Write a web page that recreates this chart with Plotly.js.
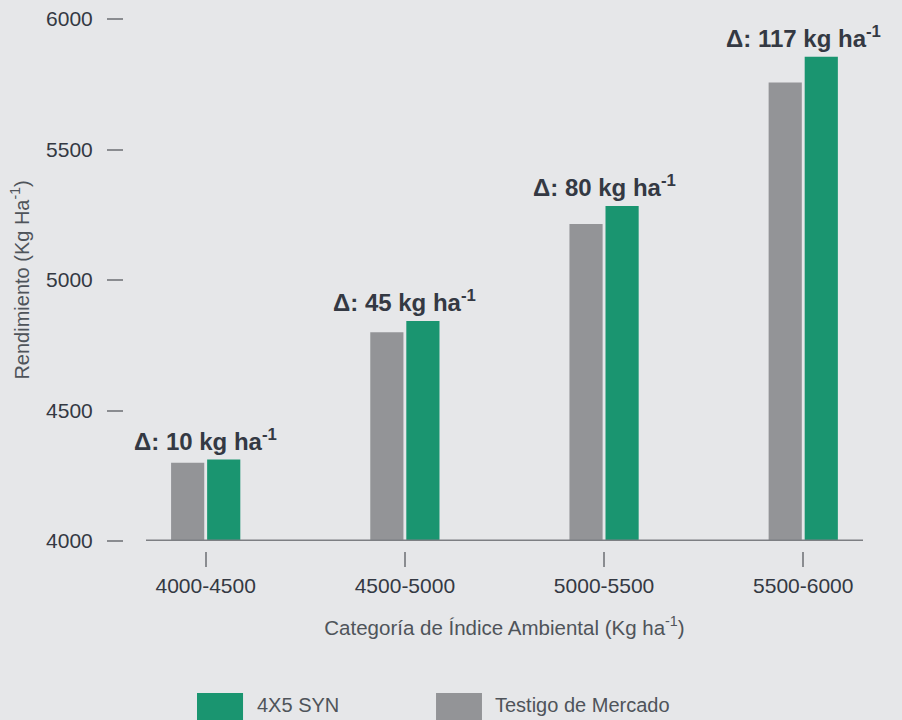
<!DOCTYPE html>
<html>
<head>
<meta charset="utf-8">
<script src="https://cdn.plot.ly/plotly-3.0.1.min.js"></script>
<style>
html,body{margin:0;padding:0;background:#e6e7e9;}
#chart{width:902px;height:720px;}
</style>
</head>
<body>
<div id="chart"></div>
<script>
var categories = ["4000-4500", "4500-5000", "5000-5500", "5500-6000"];
var testigoValues = [4300, 4800, 5215, 5757];
var synValues = [4312, 4843, 5284, 5855];
var deltaValues = [10, 45, 80, 117];
var seriesNames = ["4X5 SYN", "Testigo de Mercado"];
var yTickValues = [4000, 4500, 5000, 5500, 6000];

var GREEN = "#1a9570";
var GRAY = "#939497";
var BG = "#e6e7e9";
var DARK = "#343943";
var MID = "#4f545a";
var FONT = "Liberation Sans, Arial, sans-serif";

var traces = [
  {type: "bar", name: seriesNames[1], x: categories, y: testigoValues,
   marker: {color: GRAY}, showlegend: false, hoverinfo: "x+y"},
  {type: "bar", name: seriesNames[0], x: categories, y: synValues,
   marker: {color: GREEN}, showlegend: false, hoverinfo: "x+y"}
];

var annotations = categories.map(function (c, i) {
  return {
    x: c, y: Math.max(synValues[i], testigoValues[i]), xref: "x", yref: "y",
    text: "<b>Δ: " + deltaValues[i] + " kg ha<sup>-1</sup></b>",
    showarrow: false, yanchor: "bottom", xanchor: "center", yshift: 3,
    font: {family: FONT, size: 24, color: DARK}
  };
});

// legend labels (custom large swatches)
var legendX = [0.1784, 0.5];
var swatchX = [[0.1, 0.1622], [0.423, 0.4851]];
var legendColors = [GREEN, GRAY];
var shapes = [
  {type: "line", xref: "x", yref: "y", x0: -0.3, x1: 3.3, y0: 4000, y1: 4000,
   line: {color: "#7d7f83", width: 3}, layer: "above"}
];
for (var k = 0; k < 2; k++) {
  shapes.push({type: "rect", xref: "paper", yref: "paper",
    x0: swatchX[k][0], x1: swatchX[k][1], y0: -0.2669, y1: -0.33,
    fillcolor: legendColors[k], line: {width: 0}});
  annotations.push({xref: "paper", yref: "paper", x: legendX[k], y: -0.2895,
    xanchor: "left", yanchor: "middle", showarrow: false, text: seriesNames[k],
    font: {family: FONT, size: 20, color: MID}});
}

var layout = {
  width: 902, height: 720,
  paper_bgcolor: BG, plot_bgcolor: BG,
  margin: {l: 123, r: 39, t: 19, b: 169, pad: 0},
  barmode: "group", bargap: 0.638, bargroupgap: 0.08,
  font: {family: FONT, color: DARK},
  xaxis: {
    type: "category", range: [-0.3, 3.3], domain: [0.031, 1],
    anchor: "free", position: 0,
    showline: false, showgrid: false, zeroline: false,
    ticks: "outside", ticklen: 15, tickwidth: 2, tickcolor: "#8a8c90",
    tickfont: {size: 21, color: DARK}, ticklabelstandoff: 1,
    title: {text: "Categoría de Índice Ambiental (Kg ha<sup>-1</sup>)",
            font: {size: 20.5, color: MID}, standoff: 24}
  },
  yaxis: {
    range: [4000, 6000], domain: [0.0188, 1],
    anchor: "free", position: 0,
    tickvals: yTickValues, ticktext: yTickValues.map(String),
    showline: false, showgrid: false, zeroline: false,
    ticks: "outside", ticklen: 16, tickwidth: 2, tickcolor: "#8a8c90",
    tickfont: {size: 21, color: DARK}, ticklabelstandoff: 10,
    title: {text: "Rendimiento (Kg Ha<sup>-1</sup>)",
            font: {size: 20, color: MID}, standoff: 10}
  },
  shapes: shapes,
  annotations: annotations
};

Plotly.newPlot("chart", traces, layout, {displayModeBar: false, staticPlot: true});
</script>
</body>
</html>
